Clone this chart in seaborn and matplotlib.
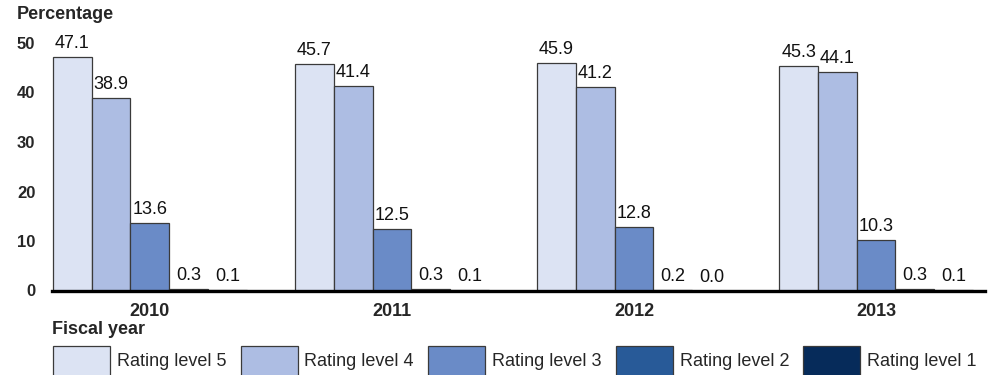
import matplotlib
matplotlib.use("Agg")
import matplotlib.pyplot as plt
import seaborn as sns
import pandas as pd

# Fiscal years and rating levels
years = ["2010", "2011", "2012", "2013"]
levels = ["Rating level 5", "Rating level 4", "Rating level 3", "Rating level 2", "Rating level 1"]

# Percentage of ratings at each level, per fiscal year
level5 = [47.1, 45.7, 45.9, 45.3]
level4 = [38.9, 41.4, 41.2, 44.1]
level3 = [13.6, 12.5, 12.8, 10.3]
level2 = [0.3, 0.3, 0.2, 0.3]
level1 = [0.1, 0.1, 0.0, 0.1]

yticks = [0, 10, 20, 30, 40, 50]

colors = ["#dce3f3", "#adbde3", "#6a8bc7", "#285a98", "#062b5a"]

rows = []
for lvl, vals in zip(levels, [level5, level4, level3, level2, level1]):
    for yr, v in zip(years, vals):
        rows.append({"Fiscal year": yr, "Rating": lvl, "Percentage": v})
df = pd.DataFrame(rows)

sns.set_theme(style="white")
plt.rcParams["font.family"] = ["Liberation Sans", "DejaVu Sans"]

W, H = 990, 375
fig = plt.figure(figsize=(W / 100, H / 100), dpi=100)
left, right = 52 / W, 985 / W
bottom = (H - 290.5) / H
top = (H - 33.1) / H
ax = fig.add_axes([left, bottom, right - left, top - bottom])

sns.barplot(
    data=df, x="Fiscal year", y="Percentage", hue="Rating",
    order=years, hue_order=levels, palette=colors,
    width=0.8, edgecolor="#3a3a3a", linewidth=0.9,
    legend=False, ax=ax, errorbar=None, saturation=1,
)

for cont in ax.containers:
    ax.bar_label(cont, fmt="%.1f", padding=3.5, fontsize=13, color="#111111")

ax.set_xlim(-0.404, 3.45)
ax.set_ylim(0, 52)
ax.set_yticks(yticks)
ax.set_yticklabels([str(t) for t in yticks], fontsize=12, fontweight="bold")
ax.tick_params(axis="y", length=0, pad=12)
ax.tick_params(axis="x", length=0, pad=9, labelsize=13)
for lab in ax.get_xticklabels():
    lab.set_fontweight("bold")

ax.set_ylabel("")
ax.set_xlabel("Fiscal year", loc="left", fontsize=13, fontweight="bold", labelpad=1)

for s in ["left", "top", "right"]:
    ax.spines[s].set_visible(False)
ax.spines["bottom"].set_color("black")
ax.spines["bottom"].set_linewidth(2.4)
ax.grid(False)

fig.text(17 / W, 1 - 6 / H, "Percentage", fontsize=13, fontweight="bold",
         ha="left", va="top")

fs_px = 13 * 100 / 72
leg = fig.legend(
    handles=list(ax.containers), labels=levels,
    loc="upper left", bbox_to_anchor=(53 / W, 1 - 346 / H),
    ncol=5, frameon=False, fontsize=13,
    handlelength=57 / fs_px, handleheight=44 / fs_px,
    handletextpad=7 / fs_px, columnspacing=14 / fs_px,
    borderpad=0, borderaxespad=0,
)
# lift the legend labels slightly toward the top of the swatches
for t in leg.get_texts():
    t.set_y(2)

fig.savefig("out.png", dpi=100)
